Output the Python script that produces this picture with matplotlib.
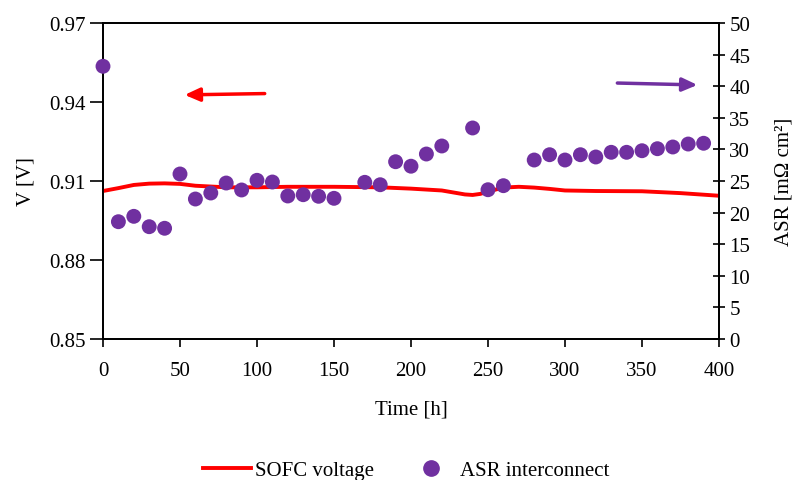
import matplotlib
matplotlib.use("Agg")
import matplotlib.pyplot as plt
from matplotlib.lines import Line2D

plt.rcParams['font.family'] = ['Liberation Serif', 'DejaVu Serif']

# SOFC voltage (left axis)
v_time = [0, 10, 20, 30, 40, 50, 60, 70, 80, 100, 120, 150, 180, 200, 220, 235,
          240, 245, 250, 260, 270, 280, 290, 300, 320, 350, 375, 400]
v_volt = [0.9062, 0.9073, 0.9085, 0.9090, 0.9091, 0.9089, 0.9082, 0.9079, 0.9076,
          0.9076, 0.9078, 0.9078, 0.9076, 0.9071, 0.9064, 0.9049, 0.9047, 0.9051,
          0.9060, 0.9075, 0.9078, 0.9075, 0.9070, 0.9064, 0.9062, 0.9061, 0.9054,
          0.9044]

# ASR interconnect (right axis)
asr_time = [0, 10, 20, 30, 40, 50, 60, 70, 80, 90, 100, 110, 120, 130, 140, 150,
            170, 180, 190, 200, 210, 220, 240, 250, 260, 280, 290, 300, 310, 320,
            330, 340, 350, 360, 370, 380, 390]
asr_vals = [43.15, 18.56, 19.41, 17.77, 17.52, 26.11, 22.15, 23.10, 24.68, 23.58,
            25.11, 24.84, 22.63, 22.83, 22.58, 22.26, 24.79, 24.41, 28.05, 27.34,
            29.27, 30.54, 33.39, 23.62, 24.26, 28.32, 29.16, 28.32, 29.16, 28.80,
            29.54, 29.54, 29.79, 30.11, 30.38, 30.85, 30.97]

left_ticks = [0.85, 0.88, 0.91, 0.94, 0.97]
left_ticklabels = ['0.85', '0.88', '0.91', '0.94', '0.97']
right_ticks = list(range(0, 55, 5))
x_ticks = list(range(0, 450, 50))

RED = '#FF0000'
PURPLE = '#7030A0'
FS = 15

fig = plt.figure(figsize=(7.95, 4.81), dpi=100)
ax = fig.add_axes([103 / 795, 1 - 340 / 481, 616 / 795, 316 / 481])
ax2 = ax.twinx()

ax.plot(v_time, v_volt, color=RED, lw=2.8, zorder=3)
ax2.scatter(asr_time, asr_vals, s=115, color=PURPLE, edgecolors='none', zorder=4,
            clip_on=False)

ax.set_xlim(0, 400)
ax.set_ylim(0.85, 0.97)
ax2.set_ylim(0, 50)
ax.set_xticks(x_ticks)
ax.set_yticks(left_ticks)
ax.set_yticklabels(left_ticklabels)
ax2.set_yticks(right_ticks)

for a in (ax, ax2):
    for s in a.spines.values():
        s.set_linewidth(1.3)
        s.set_color('black')
ax.tick_params(axis='y', labelsize=FS, direction='out', length=9.5, width=1.2, pad=3)
ax.tick_params(axis='x', labelsize=FS, direction='out', length=6, width=1.2, pad=10)
ax2.tick_params(axis='y', labelsize=FS, direction='inout', length=9, width=1.2, pad=3)

ax.set_xlabel('Time [h]', fontsize=FS, labelpad=14)
ax.set_ylabel('V [V]', fontsize=FS, labelpad=10)
ax2.set_ylabel('ASR [m\u03a9 cm\u00b2]', fontsize=FS, labelpad=17)

# Axis-indicating arrows
ax.annotate('', xy=(53, 0.9427), xytext=(105, 0.9432),
            arrowprops=dict(arrowstyle='-|>,head_length=0.9,head_width=0.4',
                            color=RED, lw=2.5, shrinkA=0, shrinkB=0))
ax2.annotate('', xy=(386, 40.2), xytext=(334, 40.5),
             arrowprops=dict(arrowstyle='-|>,head_length=0.9,head_width=0.4',
                             color=PURPLE, lw=2.5, shrinkA=0, shrinkB=0))

handles = [Line2D([], [], color=RED, lw=2.8),
           Line2D([], [], color=PURPLE, marker='o', ls='none', markersize=11)]
fig.legend(handles, ['SOFC voltage', 'ASR interconnect'], loc='center',
           bbox_to_anchor=(406 / 795, 1 - 471 / 481), ncol=2, frameon=False,
           fontsize=FS, handlelength=2.3, handletextpad=0.2, columnspacing=1.6,
           borderpad=0)

fig.savefig('out.png', dpi=100)
